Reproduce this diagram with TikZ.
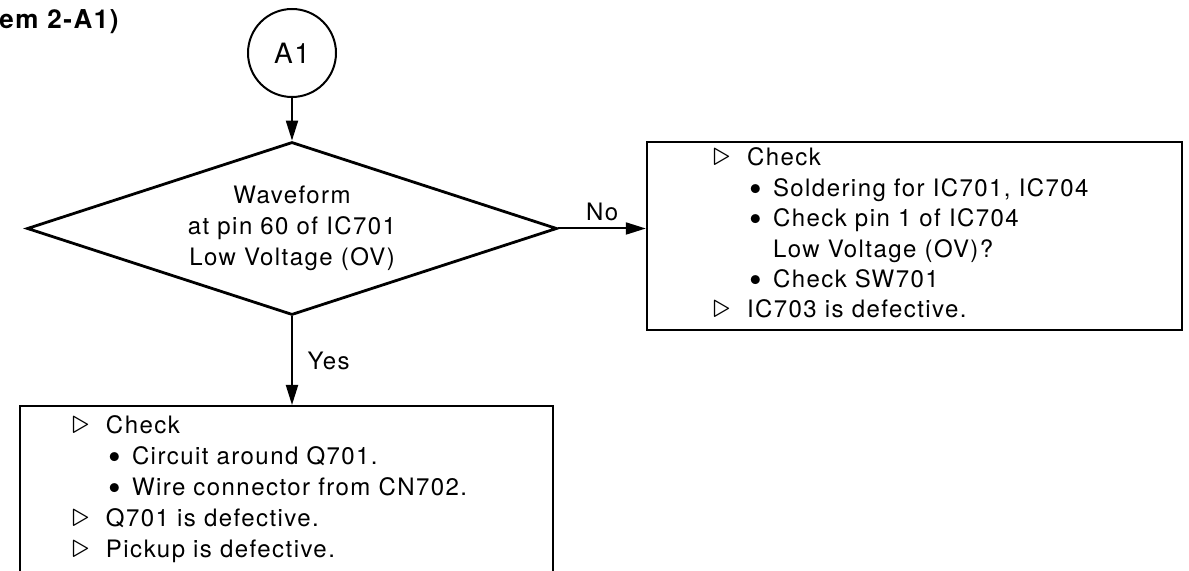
\documentclass[tikz,border=0pt]{standalone}
\usepackage{graphicx}
\usepackage{fontspec}
\setmainfont{TeX Gyre Heros}[LetterSpace=6]
\usepackage{tikz}
\usetikzlibrary{positioning,arrows.meta,shapes.geometric}

% list markers for the check boxes
\newcommand{\chk}{\makebox[17pt][l]{\scalebox{1.45}{$\triangleright$}}}
\newcommand{\itm}{\hspace*{18pt}%
  \makebox[12pt][l]{\raisebox{-2.6pt}{\scalebox{1.5}{\textbullet}}}}

\begin{document}
\begin{tikzpicture}[
  x=0.5pt, y=-0.5pt,
  font=\fontsize{12}{15.5}\selectfont,
  start/.style={draw, circle, line width=1pt, minimum size=44pt,
                inner sep=0pt, font=\fontsize{14}{16}\selectfont},
  decide/.style={draw, diamond, line width=1.4pt, aspect=3.06,
                 minimum width=265pt, minimum height=86.5pt,
                 inner sep=0pt, align=center},
  todo/.style={draw, rectangle, line width=1.2pt, inner sep=0pt,
               font=\fontsize{12}{15.2}\selectfont},
  arr/.style={-{Triangle[length=10pt,width=6pt]}, line width=1pt},
]
\useasboundingbox (0,0) rectangle (1189,571);
\clip (0,0) rectangle (1189,571);
\fill[white] (0,0) rectangle (1189,571);

% heading
\node[anchor=west, inner sep=0pt, font=\bfseries\fontsize{13}{15}\selectfont]
  (ttl) at (-1,22) {em 2-A1)};

% start marker and decision
\node[start] (a1) at (292,53) {A1};
\node[decide] (dec) at (292,228.5)
  {Waveform\\at pin 60 of IC701\\Low Voltage (OV)};
\draw[arr] (a1) -- (dec);

% no branch
\node[todo] (chkno) at (914.5,236) {\parbox[c][94pt][t]{267.5pt}{%
  \raggedright\leftskip=33pt\vspace*{3pt}%
  \chk Check\\
  \itm Soldering for IC701, IC704\\
  \itm Check pin 1 of IC704\\
  \hspace*{30pt}Low Voltage (OV)?\\
  \itm Check SW701\\
  \chk IC703 is defective.}};
\draw[arr] (dec.east) -- node[above] (lno) {No} (dec.east -| chkno.west);

% yes branch
\node[todo, anchor=north, font=\fontsize{12}{15.5}\selectfont] (chkyes)
  at (286.5,405) {\parbox[c][90pt][t]{266.5pt}{%
  \raggedright\leftskip=26pt\vspace*{4.5pt}%
  \chk Check\\
  \itm Circuit around Q701.\\
  \itm Wire connector from CN702.\\
  \chk Q701 is defective.\\
  \chk Pickup is defective.}};
\draw[arr] (dec.south) -- node[right=4pt] (lyes) {Yes}
  (dec.south |- chkyes.north);
\end{tikzpicture}
\end{document}
